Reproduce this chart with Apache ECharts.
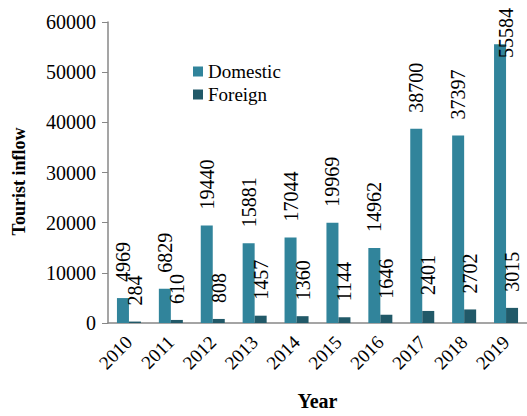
<!DOCTYPE html>
<html>
<head>
<meta charset="utf-8">
<script src="https://cdn.jsdelivr.net/npm/echarts@6/dist/echarts.min.js"></script>
<style>html,body{margin:0;padding:0;background:#fff}#c{width:527px;height:416px}</style>
</head>
<body>
<div id="c"></div>
<script>
var years = ['2010','2011','2012','2013','2014','2015','2016','2017','2018','2019'];
var domestic = [4969, 6829, 19440, 15881, 17044, 19969, 14962, 38700, 37397, 55584];
var foreign = [284, 610, 808, 1457, 1360, 1144, 1646, 2401, 2702, 3015];
var yTicks = [0, 10000, 20000, 30000, 40000, 50000, 60000];

var FONT = 'Times New Roman';
var chart = echarts.init(document.getElementById('c'), null, {renderer: 'svg'});

function lbl() {
  return {
    show: true, position: 'top', rotate: 90, align: 'left', verticalAlign: 'middle',
    distance: 16, color: '#000', fontFamily: FONT, fontSize: 20, fontWeight: 'normal'
  };
}

chart.setOption({
  animation: false,
  textStyle: {fontFamily: FONT},
  grid: {left: 108, top: 22, right: -2, bottom: 89, containLabel: false},
  legend: {
    orient: 'vertical', left: 188, top: 57, itemWidth: 10, itemHeight: 10, itemGap: 4,
    icon: 'rect',
    textStyle: {fontFamily: FONT, fontSize: 19, color: '#000', lineHeight: 19},
    data: ['Domestic', 'Foreign']
  },
  xAxis: {
    type: 'category', data: years,
    axisLine: {lineStyle: {color: '#878787', width: 1.5}},
    axisTick: {show: false},
    axisLabel: {rotate: 45, color: '#000', fontFamily: FONT, fontSize: 19, margin: 16, interval: 0},
    name: 'Year', nameLocation: 'middle', nameGap: 68,
    nameTextStyle: {fontFamily: FONT, fontSize: 20, fontWeight: 'bold', color: '#000'}
  },
  yAxis: {
    type: 'value', min: yTicks[0], max: yTicks[yTicks.length-1], interval: 10000,
    axisLine: {show: true, lineStyle: {color: '#878787', width: 1.5}},
    axisTick: {show: true, length: 6, lineStyle: {color: '#878787'}},
    splitLine: {show: false},
    axisLabel: {color: '#000', fontFamily: FONT, fontSize: 20, margin: 12,
      formatter: function (v) { return String(v); }},
    name: 'Tourist inflow', nameLocation: 'middle', nameGap: 80,
    nameTextStyle: {fontFamily: FONT, fontSize: 18, fontWeight: 'bold', color: '#000', padding: [0,0,0,-18]}
  },
  series: [
    {name: 'Domestic', type: 'bar', data: domestic, barWidth: 12, barGap: '0%',
     itemStyle: {color: '#31849B'}, label: lbl()},
    {name: 'Foreign', type: 'bar', data: foreign, barWidth: 12,
     itemStyle: {color: '#215968'}, label: lbl()}
  ],
  labelLayout: function (p) {
    var r = p.labelRect;
    if (r.y < 8) {
      return {y: 8 + r.height, x: r.x + r.width / 2 + 6};
    }
    return {};
  }
});
</script>
</body>
</html>
